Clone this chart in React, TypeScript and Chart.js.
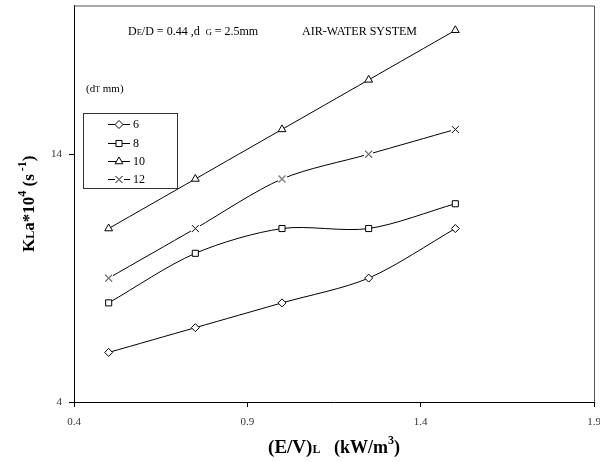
import { useEffect, useRef } from 'react';
import { Chart, registerables } from 'chart.js';
import { drawPoint } from 'chart.js/helpers';

Chart.register(...registerables);

// ---- data ----
const powerInput = [0.5, 0.75, 1.0, 1.25, 1.5];
const kla6 = [6, 7, 8, 9, 11];
const kla8 = [8, 10, 11, 11, 12];
const kla10 = [11, 13, 15, 17, 19];
const kla12 = [9, 11, 13, 14, 15];
const seriesLabels = ['6', '8', '10', '12'];
const xTicks = [0.4, 0.9, 1.4, 1.9];
const yTicks = [4, 14];
const xMin = 0.4;
const xMax = 1.9;
const yMin = 4;
const yMax = 20;

const SERIF = "'Liberation Serif', 'Times New Roman', serif";

type Seg = { t: string; s: number; b?: boolean; dy?: number };

function segFont(sg: Seg) {
  return `${sg.b ? 'bold ' : ''}${sg.s}px ${SERIF}`;
}

function richWidth(ctx: CanvasRenderingContext2D, segs: Seg[]) {
  let w = 0;
  for (const sg of segs) {
    ctx.font = segFont(sg);
    w += ctx.measureText(sg.t).width;
  }
  return w;
}

function drawRich(ctx: CanvasRenderingContext2D, segs: Seg[], x: number, y: number) {
  let cx = x;
  ctx.textBaseline = 'alphabetic';
  ctx.textAlign = 'left';
  for (const sg of segs) {
    ctx.font = segFont(sg);
    ctx.fillText(sg.t, cx, y + (sg.dy || 0));
    cx += ctx.measureText(sg.t).width;
  }
}

function makeCross(): HTMLCanvasElement {
  const c = document.createElement('canvas');
  c.width = 9;
  c.height = 9;
  const g = c.getContext('2d')!;
  g.fillStyle = '#fff';
  g.fillRect(0, 0, 9, 9);
  g.strokeStyle = '#000';
  g.lineWidth = 1;
  g.beginPath();
  g.moveTo(1, 1);
  g.lineTo(8, 8);
  g.moveTo(8, 1);
  g.lineTo(1, 8);
  g.stroke();
  return c;
}

export default function App() {
  const ref = useRef<HTMLCanvasElement | null>(null);

  useEffect(() => {
    if (!ref.current) return;
    const cross = makeCross();
    const seriesValues = [kla6, kla8, kla10, kla12];
    const styles: any[] = ['rectRot', 'rect', 'triangle', cross];
    const radii = [4, 4.3, 4.5, 4.5];

    const datasets = seriesValues.map((vals, i) => ({
      label: seriesLabels[i],
      data: vals.map((v, j) => ({ x: powerInput[j], y: v })),
      borderColor: '#000',
      borderWidth: 1,
      backgroundColor: '#fff',
      pointStyle: styles[i],
      pointRadius: radii[i],
      pointBorderWidth: 1,
      pointBackgroundColor: '#fff',
      pointBorderColor: '#000',
      tension: 0.3,
      fill: false,
    }));

    const tickFont = { family: SERIF, size: 11 };

    const deco = {
      id: 'deco',
      afterDraw(chart: any) {
        const ctx: CanvasRenderingContext2D = chart.ctx;
        const a = chart.chartArea;
        ctx.save();
        // top & right frame
        ctx.strokeStyle = '#555';
        ctx.lineWidth = 1;
        ctx.beginPath();
        ctx.moveTo(a.left, a.top + 0.5);
        ctx.lineTo(a.right + 0.5, a.top + 0.5);
        ctx.lineTo(a.right + 0.5, a.bottom);
        ctx.stroke();

        ctx.fillStyle = '#000';
        // annotations
        drawRich(ctx, [
          { t: 'D', s: 12 },
          { t: 'E', s: 8.5 },
          { t: '/D = 0.44 ,d  ', s: 12 },
          { t: 'G', s: 8.5 },
          { t: ' = 2.5mm', s: 12 },
        ], 128, 35);
        drawRich(ctx, [{ t: 'AIR-WATER SYSTEM', s: 12 }], 302, 35);
        drawRich(ctx, [
          { t: '(d', s: 11 },
          { t: 'T', s: 8 },
          { t: ' mm)', s: 11 },
        ], 86, 92);

        // legend
        const lx = 83, ly = 113, lw = 94, lh = 75;
        ctx.fillStyle = '#fff';
        ctx.fillRect(lx, ly, lw, lh);
        ctx.strokeStyle = '#333';
        ctx.strokeRect(lx + 0.5, ly + 0.5, lw, lh);
        const rows = [124, 143, 161, 179];
        chart.data.datasets.forEach((ds: any, i: number) => {
          const y = rows[i];
          ctx.strokeStyle = '#000';
          ctx.lineWidth = 1;
          ctx.beginPath();
          ctx.moveTo(108, y + 0.5);
          ctx.lineTo(130, y + 0.5);
          ctx.stroke();
          ctx.fillStyle = '#fff';
          drawPoint(ctx, { pointStyle: ds.pointStyle, rotation: 0, radius: ds.pointRadius, borderWidth: 1 } as any, 119, y + 0.5);
          ctx.fillStyle = '#000';
          ctx.font = `12px ${SERIF}`;
          ctx.textBaseline = 'middle';
          ctx.textAlign = 'left';
          ctx.fillText(ds.label, 133, y + 1);
        });

        // axis titles
        ctx.fillStyle = '#000';
        const ySegs: Seg[] = [
          { t: 'K', s: 17, b: true },
          { t: 'L', s: 12, b: true },
          { t: 'a*10', s: 17, b: true },
          { t: '4', s: 12, b: true, dy: -8 },
          { t: ' (s', s: 17, b: true },
          { t: ' -1', s: 12, b: true, dy: -8 },
          { t: ')', s: 17, b: true },
        ];
        const yw = richWidth(ctx, ySegs);
        ctx.save();
        ctx.translate(34, (a.top + a.bottom) / 2);
        ctx.rotate(-Math.PI / 2);
        drawRich(ctx, ySegs, -yw / 2, 0);
        ctx.restore();

        const xSegs: Seg[] = [
          { t: '(E/V)', s: 19, b: true },
          { t: 'L', s: 12, b: true },
          { t: '   (kW/m', s: 18, b: true },
          { t: '3', s: 12, b: true, dy: -9 },
          { t: ')', s: 18, b: true },
        ];
        const xw = richWidth(ctx, xSegs);
        drawRich(ctx, xSegs, 334 - xw / 2, 453);
        ctx.restore();
      },
    };

    const chart = new Chart(ref.current, {
      type: 'line',
      data: { datasets },
      options: {
        responsive: false,
        animation: false,
        devicePixelRatio: 1,
        layout: { padding: { left: 0, top: 5, right: 6, bottom: 0 } },
        plugins: {
          legend: { display: false },
          tooltip: { enabled: false },
          title: { display: false },
        },
        scales: {
          x: {
            type: 'linear',
            min: xMin,
            max: xMax,
            afterBuildTicks: (s: any) => {
              s.ticks = xTicks.map((v) => ({ value: v }));
            },
            afterFit: (s: any) => {
              s.height = 60;
              s.paddingLeft = 0;
              s.paddingRight = 0;
            },
            ticks: {
              callback: (v: any) => Number(v).toFixed(1),
              font: tickFont,
              color: '#333',
              padding: 9,
              maxRotation: 0,
              autoSkip: false,
            },
            grid: { drawOnChartArea: false, drawTicks: true, tickLength: 5, color: '#000' },
            border: { color: '#000', width: 1 },
          },
          y: {
            type: 'linear',
            min: yMin,
            max: yMax,
            afterBuildTicks: (s: any) => {
              s.ticks = yTicks.map((v) => ({ value: v }));
            },
            afterFit: (s: any) => {
              s.width = 74;
              s.paddingTop = 0;
              s.paddingBottom = 0;
            },
            ticks: {
              font: tickFont,
              color: '#333',
              padding: 7,
            },
            grid: { drawOnChartArea: false, drawTicks: true, tickLength: 5, color: '#000' },
            border: { color: '#000', width: 1 },
          },
        },
      },
      plugins: [deco],
    } as any);

    return () => chart.destroy();
  }, []);

  return (
    <div style={{ position: 'absolute', left: 0, top: 0, width: 600, height: 462, background: '#fff' }}>
      <canvas ref={ref} width={600} height={462} style={{ width: 600, height: 462, display: 'block' }} />
    </div>
  );
}
